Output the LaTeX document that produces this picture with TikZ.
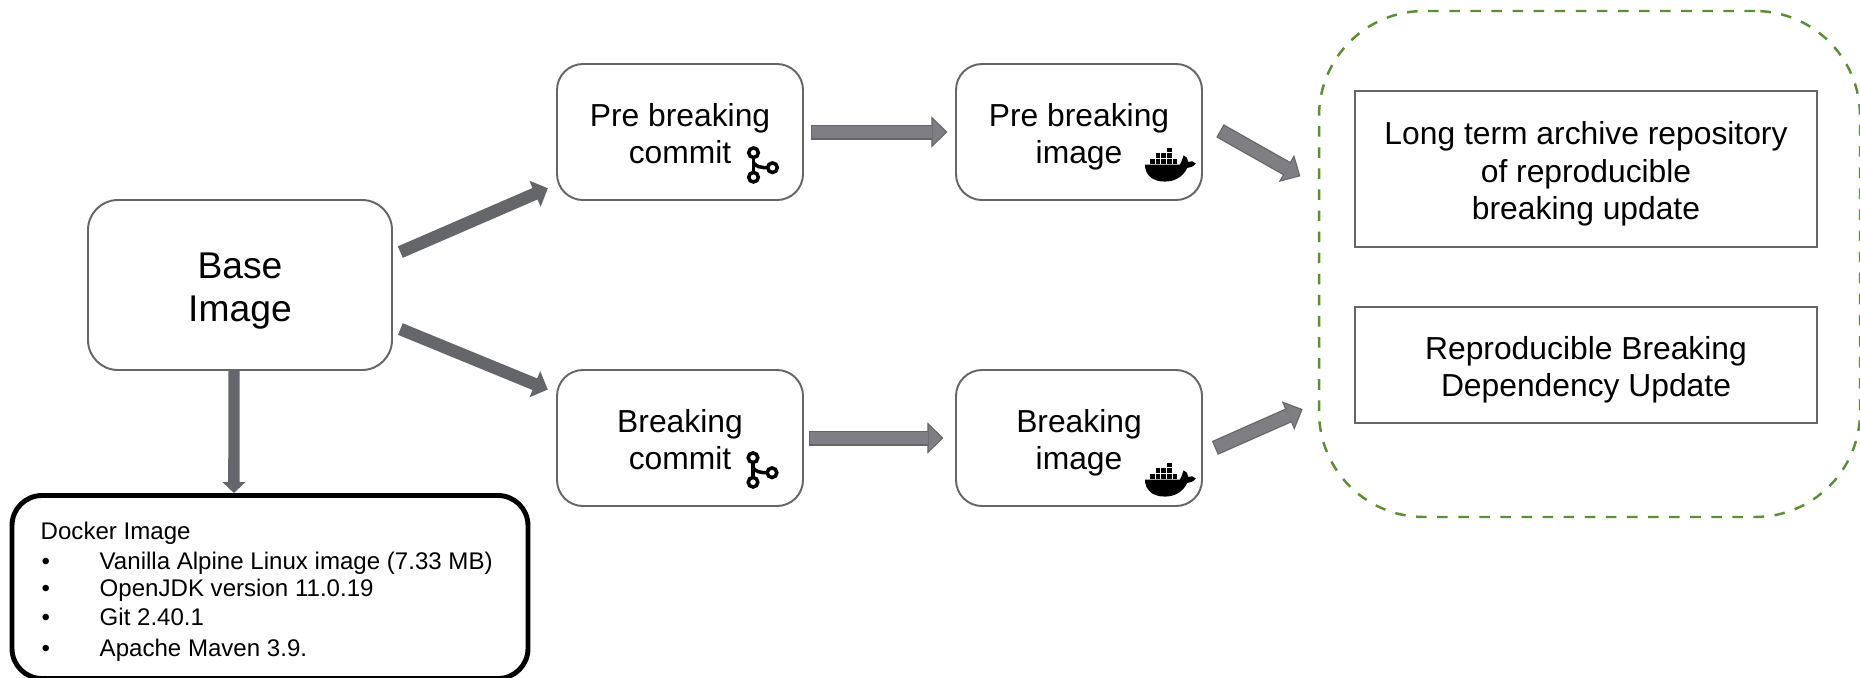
\documentclass[tikz,border=0pt]{standalone}
\usepackage{fontspec}
\setmainfont{Liberation Sans}
\usetikzlibrary{arrows.meta}
\definecolor{edgegray}{HTML}{666666}
\definecolor{fatgray}{HTML}{65666B}
\definecolor{lightgray}{HTML}{7F7E85}
\definecolor{dashgreen}{HTML}{5B8F2F}
\newcommand{\linelift}{\rule{0pt}{1.03em}}
\newcommand{\linedrop}{\rule[-.21em]{0pt}{0pt}}
\tikzset{
  roundbox/.style={draw=edgegray,line width=.55pt,rounded corners=.26cm,inner sep=0pt,align=center},
  midbox/.style={roundbox,minimum width=2.46cm,minimum height=1.36cm,font=\fontsize{9.05}{10.6}\selectfont},
  plainbox/.style={draw=edgegray,line width=.55pt,inner sep=0pt,align=center,minimum width=4.62cm,
    font=\fontsize{9.05}{10.6}\selectfont},
  listline/.style={anchor=base west,inner sep=0pt,font=\fontsize{6.85}{8}\selectfont},
  fatarrow/.style 2 args={draw=fatgray,line width=.125cm,shorten <=#1,shorten >=#2,
    -{Triangle[length=.14cm,width=.275cm]}},
  lightarrow/.style 2 args={draw=edgegray,line width=.15cm,shorten <=#1,shorten >=#2,
    -{Triangle[length=.16cm,width=.31cm,fill=lightgray,line width=.3pt]},
    postaction={draw=lightgray,line width=.125cm,-,shorten <=#1+.012cm,shorten >=#2+.15cm}},
  gitmark/.pic={
    \draw[black,line width=1pt] (0,0)--(0,-.245);
    \draw[black,line width=1pt] (0,-.10) .. controls (.02,-.14) and (.08,-.15) .. (.14,-.15);
    \draw[black,line width=1pt,fill=white] (0,0) circle (.048);
    \draw[black,line width=1pt,fill=white] (0,-.245) circle (.048);
    \draw[black,line width=1pt,fill=white] (.19,-.15) circle (.048);
  },
  whale/.pic={
    \fill[black,x=.00333cm,y=-.00333cm] (45,86)--(150,86) .. controls (157,78) and (156,68) .. (161,58)
      .. controls (170,62) and (175,68) .. (175,78) .. controls (182,73) and (192,76) .. (198,83)
      .. controls (190,93) and (180,95) .. (172,96) .. controls (160,122) and (135,137) .. (105,137)
      .. controls (65,137) and (45,115) .. (45,86)--cycle;
    \foreach \cx in {60,77,94,111,128} \fill[black,x=.00333cm,y=-.00333cm] (\cx,69) rectangle +(14,14);
    \foreach \cx in {77,94,111} \fill[black,x=.00333cm,y=-.00333cm] (\cx,52) rectangle +(14,14);
    \fill[black,x=.00333cm,y=-.00333cm] (111,35) rectangle +(14,14);
  }
}
\begin{document}
\begin{tikzpicture}
\useasboundingbox (0,0) rectangle (18.60,6.77);
\node[draw=dashgreen,dashed,line width=.7pt,rounded corners=1.05cm,inner sep=0pt,minimum width=5.41cm,minimum height=5.06cm] (archivegroup) at (15.895,4.13) {};
\node[roundbox,rounded corners=.3cm,minimum width=3.04cm,minimum height=1.70cm,font=\fontsize{10.6}{12.2}\selectfont] (baseimg) at (2.40,3.92) {\linelift Base\\Image};
\node[midbox] (precommit) at (6.80,5.45) {\linelift Pre breaking\\commit\linedrop};
\node[midbox] (preimg) at (10.79,5.45) {\linelift Pre breaking\\image};
\node[midbox] (brcommit) at (6.80,2.39) {\linelift Breaking\\commit\linedrop};
\node[midbox] (brimg) at (10.79,2.39) {\linelift Breaking\\image};
\node[plainbox,minimum height=1.56cm] (longterm) at (15.86,5.08) {\linelift Long term archive repository\\of reproducible\\breaking update};
\node[plainbox,minimum height=1.16cm] (repro) at (15.86,3.12) {\linelift Reproducible Breaking\\Dependency Update};
\node[draw=black,line width=1.4pt,rounded corners=.3cm,inner sep=0pt,minimum width=5.16cm,minimum height=1.83cm] (dockerbox) at (2.70,.90) {};

\node[listline] (dockertitle) at (.40,1.38) {Docker Image};
\node[listline] (bulleta) at (.41,1.08) {•};
\node[listline] (linea) at (.99,1.08) {Vanilla Alpine Linux image (7.33 MB)};
\node[listline] (bulletb) at (.41,.81) {•};
\node[listline] (lineb) at (.99,.81) {OpenJDK version 11.0.19};
\node[listline] (bulletc) at (.41,.52) {•};
\node[listline] (linec) at (.99,.52) {Git 2.40.1};
\node[listline] (bulletd) at (.41,.21) {•};
\node[listline] (lined) at (.99,.21) {Apache Maven 3.9.};

\pic at (7.535,5.243) {gitmark};
\pic at (7.53,2.193) {gitmark};
\pic at (11.30,2.26) {whale};
\pic at (11.30,5.41) {whale};

\draw[fatarrow={.08cm}{.089cm}] (baseimg.11.4)--(precommit.203.9);
\draw[fatarrow={.08cm}{.089cm}] (baseimg.-15)--(brcommit.160.1);
\draw[fatarrow={0cm}{0cm},line width=.114cm,-{Triangle[length=.11cm,width=.225cm]}] (baseimg.266)--(dockerbox.111.5);
\draw[lightarrow={.07cm}{.076cm}] (precommit.east)--(preimg.west);
\draw[lightarrow={.05cm}{.116cm}] (brcommit.east)--(brimg.west);
\draw[lightarrow={.195cm}{.20cm}] (preimg.5.9)--(archivegroup.164.4);
\draw[lightarrow={.13cm}{.165cm}] (brimg.-7.5)--(archivegroup.207);
\end{tikzpicture}
\end{document}
